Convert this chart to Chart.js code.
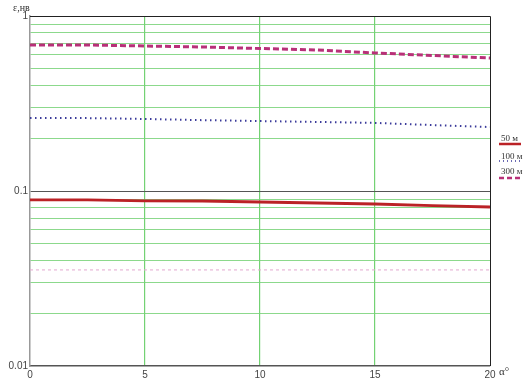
<!DOCTYPE html>
<html><head><meta charset="utf-8">
<script src="https://cdn.jsdelivr.net/npm/chart.js@4/dist/chart.umd.min.js"></script>
<style>html,body{margin:0;padding:0;background:#fff}#w{width:526px;height:379px}</style>
</head><body><div id="w"><canvas id="c" width="526" height="379"></canvas></div>
<script>
const alpha = [0, 2.5, 5, 7.5, 10, 12.5, 15, 17.5, 20];
const eps50  = [0.0889, 0.0889, 0.0877, 0.0877, 0.0865, 0.0854, 0.0843, 0.0826, 0.081];
const eps100 = [0.261, 0.261, 0.258, 0.254, 0.251, 0.248, 0.245, 0.238, 0.232];
const eps300 = [0.683, 0.683, 0.674, 0.665, 0.652, 0.639, 0.615, 0.595, 0.575];
const epsRef = [0.0354, 0.0354, 0.0354, 0.0354, 0.0354, 0.0354, 0.0354, 0.0354, 0.0354];
const seriesNames = ['50 м', '100 м', '300 м'];
const yTickValues = [0.01,0.02,0.03,0.04,0.05,0.06,0.07,0.08,0.09,0.1,0.2,0.3,0.4,0.5,0.6,0.7,0.8,0.9,1];
const yLabelValues = [0.01, 0.1, 1];
const xTickValues = [0, 5, 10, 15, 20];
const yTitle = 'ε,нв';
const xTitle = 'α°';

const pts = arr => alpha.map((a, i) => ({x: a, y: arr[i]}));
const GREEN = 'rgba(120,210,120,0.85)';

const frame = {
  id: 'frame',
  afterDraw(chart) {
    const {ctx, chartArea: a} = chart;
    ctx.save();
    ctx.strokeStyle = '#222'; ctx.lineWidth = 1;
    ctx.beginPath();
    ctx.moveTo(a.left, a.top + 0.5); ctx.lineTo(a.right + 0.5, a.top + 0.5);
    ctx.lineTo(a.right + 0.5, a.bottom);
    ctx.stroke();
    ctx.fillStyle = '#333';
    ctx.font = '10px "Liberation Serif"';
    ctx.textBaseline = 'middle'; ctx.textAlign = 'left';
    ctx.fillText(yTitle, 13, 8);
    ctx.font = '11px "Liberation Serif"';
    ctx.fillText(xTitle, 499, 372);
    const items = [
      {t: seriesNames[0], c: '#bb2226', w: 2.5, d: [], ty: 139, ly: 144},
      {t: seriesNames[1], c: '#3a3a9a', w: 1.5, d: [1, 3], ty: 157, ly: 161},
      {t: seriesNames[2], c: '#b83078', w: 2.5, d: [5, 3], ty: 172, ly: 178}
    ];
    items.forEach(it => {
      ctx.font = '9px "Liberation Serif"';
      ctx.fillStyle = '#333';
      ctx.fillText(it.t, 501, it.ty);
      ctx.strokeStyle = it.c; ctx.lineWidth = it.w; ctx.setLineDash(it.d);
      ctx.beginPath(); ctx.moveTo(499, it.ly); ctx.lineTo(521, it.ly); ctx.stroke();
    });
    ctx.restore();
  }
};

new Chart(document.getElementById('c'), {
  type: 'line',
  data: {
    datasets: [
      {label: seriesNames[0], data: pts(eps50), borderColor: '#bb2226', borderWidth: 2.8, pointRadius: 0, tension: 0},
      {label: seriesNames[1], data: pts(eps100), borderColor: '#3a3a9a', borderWidth: 2, borderDash: [1.5, 3.5], pointRadius: 0, tension: 0},
      {label: seriesNames[2], data: pts(eps300), borderColor: '#b83078', borderWidth: 3, borderDash: [6, 3], pointRadius: 0, tension: 0},
      {label: 'ref', data: pts(epsRef), borderColor: '#e2a8cf', borderWidth: 1, borderDash: [3, 3], pointRadius: 0, tension: 0}
    ]
  },
  options: {
    responsive: false, animation: false,
    layout: {padding: {left: 0, right: 36, top: 16, bottom: 0}},
    plugins: {legend: {display: false}, tooltip: {enabled: false}},
    scales: {
      x: {
        type: 'linear', min: 0, max: 20,
        afterBuildTicks: s => { s.ticks = xTickValues.map(v => ({value: v})); },
        afterFit: s => { s.height = 13; },
        ticks: {font: {family: 'Liberation Sans', size: 10}, color: '#444', padding: 3, maxRotation: 0},
        grid: {
          color: c => (c.tick && c.tick.value > 0 && c.tick.value < 20) ? 'rgba(100,205,100,0.9)' : 'rgba(0,0,0,0)',
          lineWidth: 1.2, drawTicks: false
        },
        border: {color: '#555', width: 1.5}
      },
      y: {
        type: 'logarithmic', min: 0.01, max: 1,
        afterBuildTicks: s => { s.ticks = yTickValues.map(v => ({value: v})); },
        afterFit: s => { s.width = 30; },
        ticks: {
          font: {family: 'Liberation Sans', size: 10}, color: '#444', padding: 2,
          autoSkip: false,
          callback: v => yLabelValues.some(l => Math.abs(l - v) < 1e-9) ? String(v) : ''
        },
        grid: {
          color: c => {
            const v = c.tick && c.tick.value;
            if (v === undefined) return 'rgba(0,0,0,0)';
            if (Math.abs(v - 0.1) < 1e-9) return '#555';
            if (Math.abs(v - 0.01) < 1e-9) return 'rgba(0,0,0,0)';
            return GREEN;
          },
          lineWidth: 1, drawTicks: false
        },
        border: {color: '#999', width: 1.5}
      }
    }
  },
  plugins: [frame]
});
</script>
</body></html>
